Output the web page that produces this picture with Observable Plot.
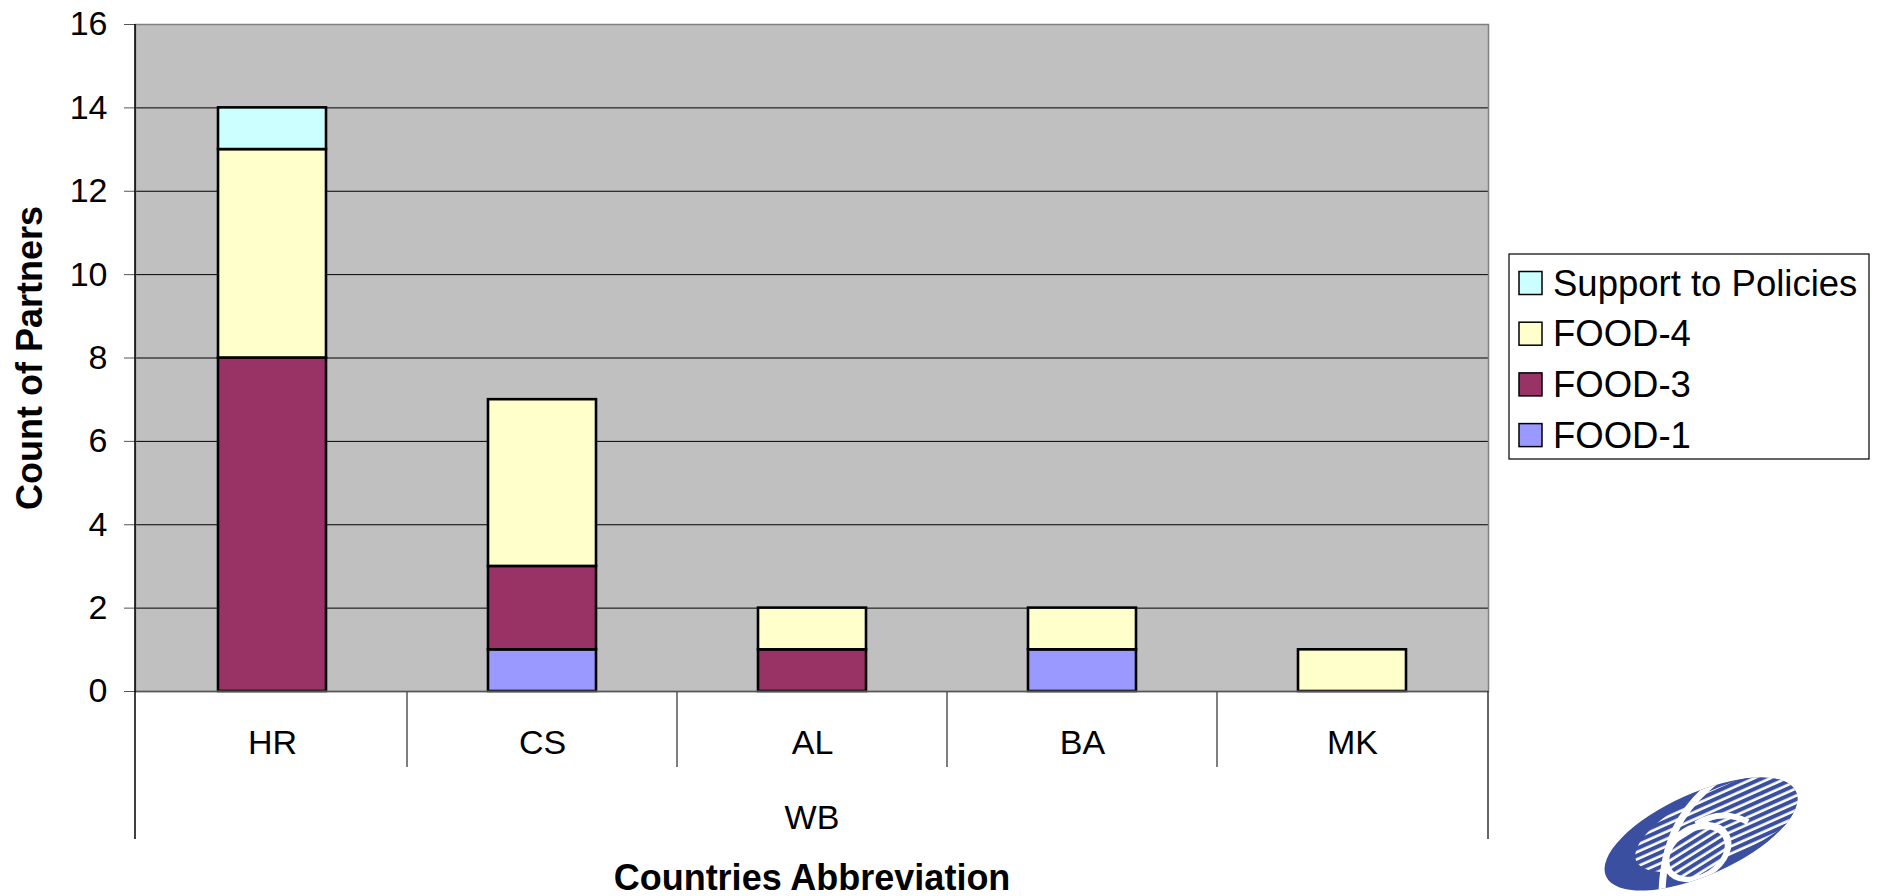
<!DOCTYPE html>
<html><head><meta charset="utf-8">
<script src="https://cdn.jsdelivr.net/npm/d3@7"></script>
<script src="https://cdn.jsdelivr.net/npm/@observablehq/plot@0.6"></script>
<style>
body{margin:0;background:#fff}
#chart{position:relative;width:1879px;height:896px}
</style>
</head><body><div id="chart"></div>
<script>
const countries = ["HR", "CS", "AL", "BA", "MK"];
const series = ["FOOD-1", "FOOD-3", "FOOD-4", "Support to Policies"];
const food1 = [0, 1, 0, 1, 0];
const food3 = [8, 2, 1, 0, 0];
const food4 = [5, 4, 1, 1, 1];
const support = [1, 0, 0, 0, 0];
const colors = ["#9999FF", "#993366", "#FFFFCC", "#CCFFFF"];
const yTicks = [0, 2, 4, 6, 8, 10, 12, 14, 16];
const groupLabel = "WB";
const xTitle = "Countries Abbreviation";
const yTitle = "Count of Partners";
const legendOrder = ["Support to Policies", "FOOD-4", "FOOD-3", "FOOD-1"];

const seriesValues = [food1, food3, food4, support];
const rows = [];
countries.forEach((c, i) => series.forEach((s, j) => {
  if (seriesValues[j][i] > 0) rows.push({country: c, series: s, value: seriesValues[j][i]});
}));

const FONT = "'Liberation Sans', Arial, Helvetica, sans-serif";

const plot = Plot.plot({
  width: 1879, height: 896,
  marginLeft: 135, marginRight: 391, marginTop: 24, marginBottom: 205,
  style: {fontFamily: FONT, fontSize: "34px", color: "#000", background: "transparent", overflow: "visible"},
  x: {domain: countries, paddingInner: 0.6, paddingOuter: 0.3, label: null},
  y: {domain: [0, 16], label: null},
  color: {domain: series, range: colors},
  marks: [
    Plot.frame({fill: "#C0C0C0"}),
    Plot.gridY(yTicks.filter(t => t > 0 && t < 16), {stroke: "#000", strokeOpacity: 1, strokeWidth: 1}),
    Plot.barY(rows, {x: "country", y: "value", fill: "series", stroke: "#000", strokeWidth: 2.6}),
    Plot.frame({stroke: "#808080", strokeWidth: 1.5}),
    Plot.ruleY([0], {stroke: "#555", strokeWidth: 1.5}),
    Plot.axisY({ticks: yTicks, tickSize: 11, tickPadding: 17, fontSize: 34, label: null, stroke: "#555"}),
    Plot.axisX({tickSize: 0, tickPadding: 38, fontSize: 34, label: null}),
    Plot.text([groupLabel], {frameAnchor: "bottom", lineAnchor: "middle", textAnchor: "middle", dy: 127, fontSize: 34, fill: "#000"}),
    Plot.text([xTitle], {frameAnchor: "bottom", lineAnchor: "middle", textAnchor: "middle", dy: 187, fontSize: 36, fontWeight: "bold", fill: "#000"}),
    Plot.text([yTitle], {frameAnchor: "left", lineAnchor: "middle", textAnchor: "middle", dx: -105, rotate: -90, fontSize: 36, fontWeight: "bold", fill: "#000"})
  ]
});

document.getElementById("chart").appendChild(plot);

// extra axis furniture drawn from the plot's own scales
const svg = d3.select(plot);
const xs = plot.scale("x");
const ys = plot.scale("y");
const [xLeft, xRight] = xs.range;
const yZero = ys.apply(0);
const yTop = ys.apply(16);
const gap = (xs.step - xs.bandwidth) / 2;
const g = svg.append("g").attr("stroke-width", 1.5);
g.append("line").attr("x1", xLeft).attr("x2", xLeft).attr("y1", yTop).attr("y2", yZero + 148).attr("stroke", "#000");
g.append("line").attr("x1", xRight).attr("x2", xRight).attr("y1", yZero).attr("y2", yZero + 148).attr("stroke", "#333");
countries.slice(1).forEach(c => {
  const xd = xs.apply(c) - gap;
  g.append("line").attr("x1", xd).attr("x2", xd).attr("y1", yZero).attr("y2", yZero + 76).attr("stroke", "#555");
});

// legend
const lg = svg.append("g").attr("transform", "translate(1509,254)");
lg.append("rect").attr("width", 360).attr("height", 205).attr("fill", "#fff").attr("stroke", "#000").attr("stroke-width", 1.2);
legendOrder.forEach((name, i) => {
  const cy = 29 + i * 50.7;
  lg.append("rect").attr("x", 10).attr("y", cy - 11.5).attr("width", 23).attr("height", 23)
    .attr("fill", colors[series.indexOf(name)]).attr("stroke", "#000").attr("stroke-width", 1.5);
  lg.append("text").attr("x", 44).attr("y", cy).attr("dy", "0.35em").attr("text-anchor", "start")
    .attr("font-family", FONT).attr("font-size", 36.5).attr("fill", "#000").text(name);
});

// decorative logo (bottom right)
const blue = "#3b4fa0";
const defs = svg.append("defs");
const pat = defs.append("pattern").attr("id", "stripes").attr("patternUnits", "userSpaceOnUse").attr("width", 10).attr("height", 6.6);
pat.append("rect").attr("width", 10).attr("height", 6.6).attr("fill", "#fff");
pat.append("rect").attr("width", 10).attr("height", 4).attr("fill", blue);
defs.append("clipPath").attr("id", "logoclip").attr("clipPathUnits", "userSpaceOnUse")
  .append("ellipse").attr("cx", 0).attr("cy", 0).attr("rx", 104).attr("ry", 41)
  .attr("transform", "translate(1701,834) rotate(-24)");
const logo = svg.append("g").attr("clip-path", "url(#logoclip)");
logo.append("rect").attr("x", 1590).attr("y", 770).attr("width", 230).attr("height", 126).attr("fill", blue);
logo.append("ellipse").attr("rx", 96).attr("ry", 34).attr("fill", "url(#stripes)")
  .attr("transform", "translate(1724,822) rotate(-24)");
logo.append("path").attr("d", "M1722,776 C1690,800 1664,830 1662,892").attr("fill", "none").attr("stroke", "#fff").attr("stroke-width", 7);
logo.append("ellipse").attr("rx", 37).attr("ry", 27).attr("fill", "#fff")
  .attr("transform", "translate(1697,852) rotate(-32)");
logo.append("path").attr("d", "M1696,824 Q1722,808 1748,822").attr("fill", "none").attr("stroke", "#fff").attr("stroke-width", 6);
logo.append("ellipse").attr("rx", 30).attr("ry", 21).attr("fill", "url(#stripes)")
  .attr("transform", "translate(1697,853) rotate(-32)");
</script>
</body></html>
